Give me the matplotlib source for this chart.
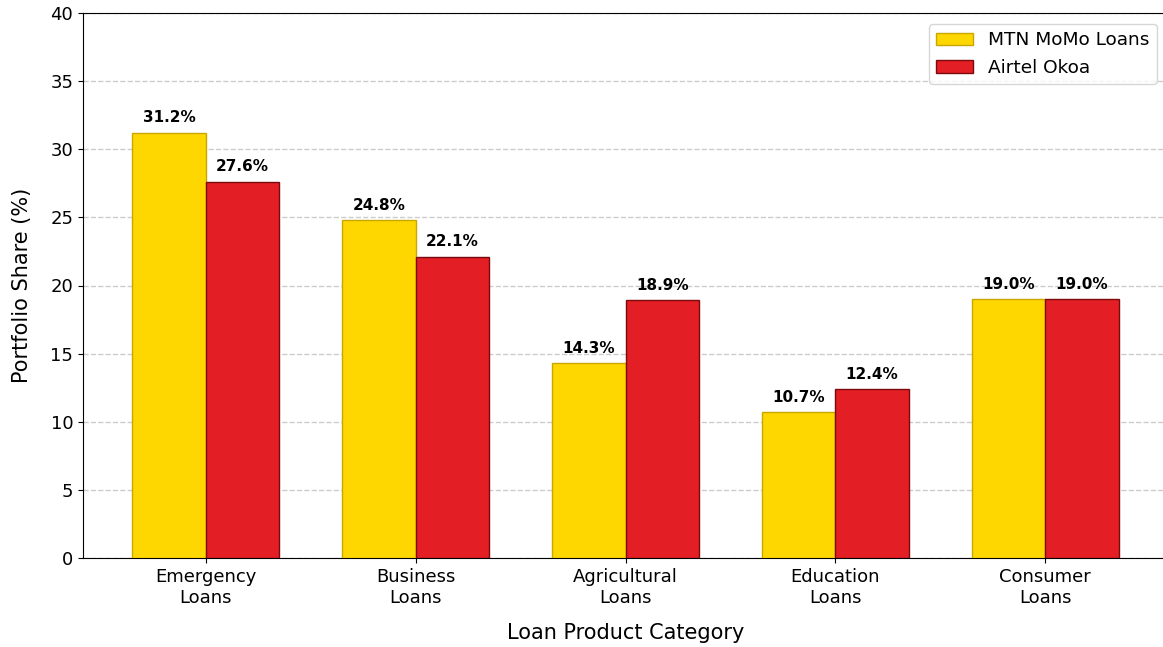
import matplotlib.pyplot as plt
import numpy as np

categories = ["Emergency\nLoans", "Business\nLoans", "Agricultural\nLoans", "Education\nLoans", "Consumer\nLoans"]
mtn_share = [31.2, 24.8, 14.3, 10.7, 19.0]
airtel_share = [27.6, 22.1, 18.9, 12.4, 19.0]

fig = plt.figure(figsize=(11.63, 6.47), dpi=100)
ax = fig.add_axes([83 / 1163, (647 - 558) / 647, (1168 - 83) / 1163, (558 - 13) / 647])

x = np.arange(len(categories))
width = 0.35

bars1 = ax.bar(x - width / 2, mtn_share, width, label="MTN MoMo Loans",
               color="#FFD700", edgecolor="#C8A800", linewidth=1, zorder=3)
bars2 = ax.bar(x + width / 2, airtel_share, width, label="Airtel Okoa",
               color="#E31E24", edgecolor="#7A0A0C", linewidth=1, zorder=3)

# value labels above bars
for bars in (bars1, bars2):
    for b in bars:
        h = b.get_height()
        ax.text(b.get_x() + b.get_width() / 2, h + 0.55, f"{h:.1f}%",
                ha="center", va="bottom", fontsize=11, fontweight="bold")

ax.set_ylim(0, 40)
ax.set_xticks(x)
ax.set_xticklabels(categories, fontsize=13)
ax.tick_params(axis="y", labelsize=13)
ax.set_ylabel("Portfolio Share (%)", fontsize=15, labelpad=13)
ax.set_xlabel("Loan Product Category", fontsize=15, labelpad=12)
ax.yaxis.grid(True, linestyle="--", color="#cccccc", linewidth=1, zorder=0)
ax.set_axisbelow(True)
ax.legend(loc="upper right", fontsize=13.3, borderaxespad=0.6)

plt.savefig("out.png", dpi=100)
